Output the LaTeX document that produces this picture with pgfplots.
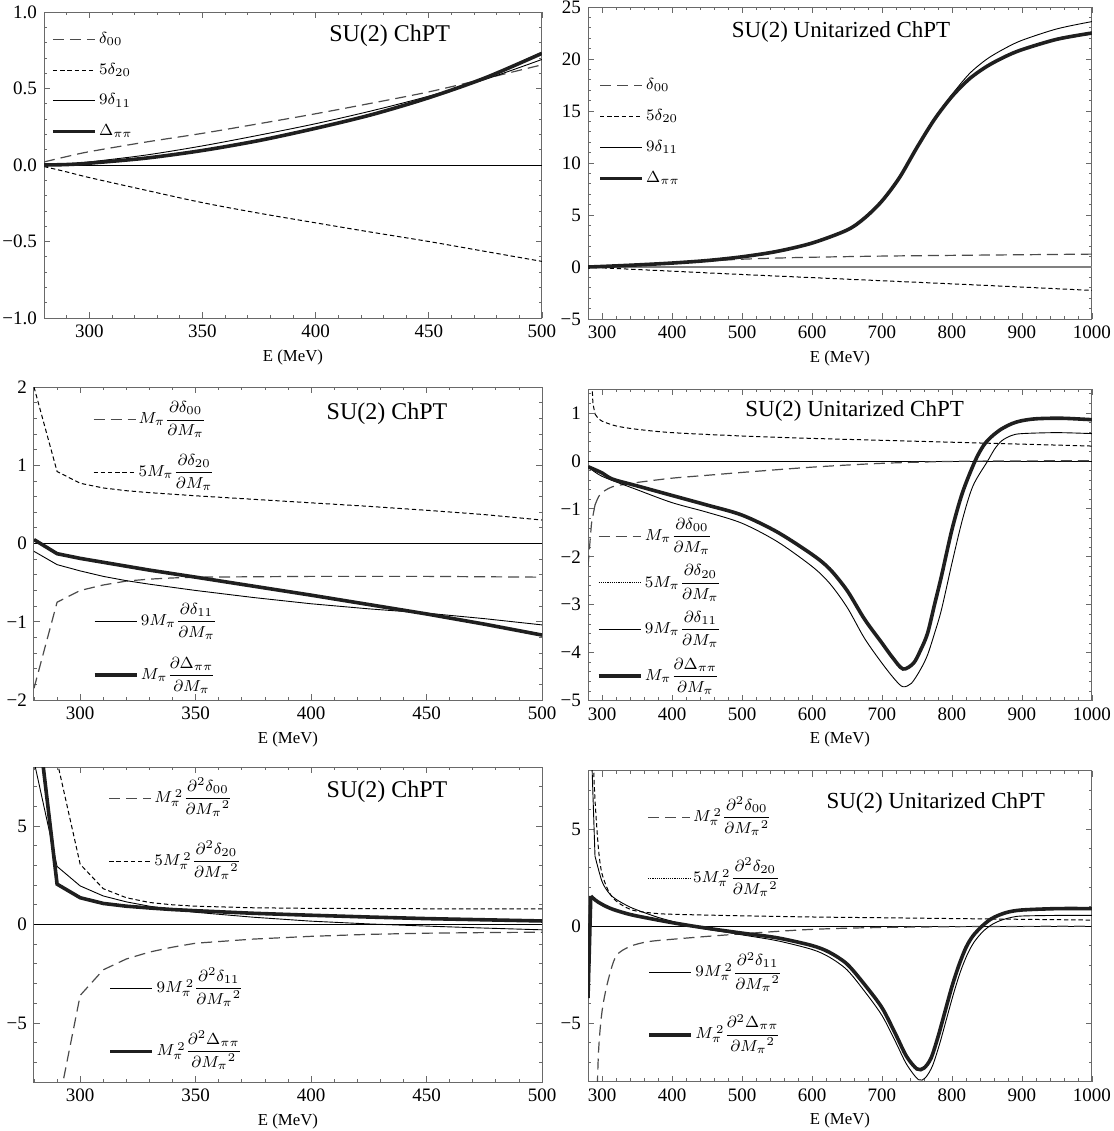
\documentclass[border=0pt]{standalone}
\usepackage{amsmath}
\usepackage{fontspec}
\setmainfont{Liberation Serif}
\usepackage{pgfplots}
\pgfplotsset{compat=1.18}
\definecolor{framec}{RGB}{105,105,105}
\definecolor{dashc}{RGB}{75,75,75}
\tikzset{
 sdoo/.style={dashc, line width=0.6pt, dash pattern=on 5.5pt off 3pt},
 sdtw/.style={black, line width=0.5pt, dash pattern=on 2.2pt off 1.4pt},
 sdtwleg/.style={black, line width=0.5pt, dash pattern=on 0.6pt off 0.5pt},
 sdel/.style={black, line width=0.45pt},
 sDel/.style={black!88, line width=1.8pt},
 zl/.style={black, line width=0.4pt},
 lg/.style={anchor=west, draw=none, fill=none, inner sep=0pt, outer sep=0pt, row sep=0pt,
   font=\fontsize{8.3}{10}\selectfont, nodes={inner xsep=1.2pt, inner ysep=0pt}},
}
\pgfplotsset{
 legend image code/.code={\draw[#1] (0pt,0pt) -- (21pt,0pt);},
 panel/.style={scale only axis, anchor=south west,
   axis line style={framec, line width=0.5pt},
   tick style={framec, line width=0.4pt},
   major tick length=3pt, minor tick length=1.6pt, tick align=inside,
   xtick pos=both, ytick pos=both,
   tick label style={font=\fontsize{9.5}{11}\selectfont, text=black},
   label style={font=\fontsize{8.4}{10}\selectfont},
   xlabel={E (MeV)}, xlabel style={yshift=1pt},
   /pgf/number format/assume math mode=true,
   /pgf/number format/1000 sep={},
   legend cell align=left},
 legax/.style={scale only axis, anchor=south west, hide axis, xmin=0, xmax=1, ymin=0, ymax=1, legend cell align=left},
 leftx/.style={xmin=280, xmax=500, xtick={300,350,...,500}, minor xtick={280,290,...,500}},
 rightx/.style={xmin=280, xmax=1000, xtick={300,400,...,1000}, minor xtick={280,300,...,1000}},
}
\begin{document}
\begin{tikzpicture}
\useasboundingbox (0,0) rectangle (557pt,-565.5pt);

% ---------------- Top left
\begin{axis}[panel, leftx, at={(22pt,-159pt)}, width=249pt, height=153pt,
  ymin=-1, ymax=1, ytick={-1,-0.5,0,0.5,1}, yticklabels={−1.0,−0.5,0.0,0.5,1.0},
  minor ytick={-0.9,-0.8,-0.7,-0.6,-0.4,-0.3,-0.2,-0.1,0.1,0.2,0.3,0.4,0.6,0.7,0.8,0.9},
  legend style={lg, at={(0.0144,0.76)}, nodes={text height=9.75pt, text depth=5.55pt}}]
\addplot[zl, forget plot] coordinates {(280,0) (500,0)};
\addplot[sdoo, smooth] coordinates {(280,0.02)(290,0.055)(300,0.087)(325,0.15)(350,0.207)(375,0.27)(400,0.335)(425,0.405)(450,0.478)(475,0.565)(500,0.655)};
\addlegendentry{$\delta_{00}$}
\addplot[sdtw, smooth] coordinates {(280,-0.01)(290,-0.045)(300,-0.082)(325,-0.165)(350,-0.246)(375,-0.315)(400,-0.378)(425,-0.44)(450,-0.5)(475,-0.565)(500,-0.63)};
\addlegendentry{$5\delta_{20}$}
\addplot[sdel, smooth] coordinates {(280,0)(290,0.006)(300,0.02)(325,0.065)(350,0.125)(375,0.195)(400,0.27)(425,0.355)(450,0.45)(475,0.56)(500,0.69)};
\addlegendentry{$9\delta_{11}$}
\addplot[sDel, smooth] coordinates {(280,0)(290,0.003)(300,0.012)(325,0.045)(350,0.095)(375,0.16)(400,0.24)(425,0.33)(450,0.44)(475,0.57)(500,0.73)};
\addlegendentry{$\Delta_{\pi\pi}$}
\node[font=\fontsize{12}{14}\selectfont, inner sep=0pt] at (rel axis cs:0.694,0.922) {SU(2) ChPT};
\end{axis}

% ---------------- Top right
\begin{axis}[panel, rightx, at={(294pt,-159.5pt)}, width=252pt, height=156pt,
  ymin=-5, ymax=25, ytick={-5,0,...,25}, yticklabels={−5,0,5,10,15,20,25},
  minor ytick={-5,-4,...,25},
  legend style={lg, at={(0.0203,0.60)}, nodes={text height=9.85pt, text depth=5.65pt}}]
\addplot[gray, line width=0.8pt, forget plot] coordinates {(280,0) (1000,0)};
\addplot[sdoo, smooth] coordinates {(280,0)(300,0.05)(350,0.2)(400,0.38)(450,0.58)(500,0.75)(550,0.86)(600,0.94)(700,1.05)(800,1.12)(900,1.18)(1000,1.24)};
\addlegendentry{$\delta_{00}$}
\addplot[sdtw, smooth] coordinates {(280,0)(300,-0.08)(400,-0.4)(500,-0.72)(600,-1.02)(700,-1.32)(800,-1.62)(900,-1.93)(1000,-2.25)};
\addlegendentry{$5\delta_{20}$}
\addplot[sdel, smooth, tension=0.5] coordinates {(280,0)(300,0.05)(350,0.2)(400,0.38)(450,0.62)(500,0.98)(550,1.5)(600,2.3)(650,3.55)(675,4.7)(700,6.35)(725,8.6)(750,11.5)(775,14.3)(790,15.7)(800,16.6)(825,18.6)(850,20.0)(875,21.0)(900,21.8)(950,22.9)(1000,23.6)};
\addlegendentry{$9\delta_{11}$}
\addplot[sDel, smooth, tension=0.5] coordinates {(280,0)(300,0.05)(350,0.2)(400,0.38)(450,0.62)(500,0.98)(550,1.5)(600,2.3)(650,3.55)(675,4.7)(700,6.35)(725,8.6)(750,11.5)(775,14.2)(800,16.4)(825,18.1)(850,19.3)(875,20.2)(900,20.9)(950,21.9)(1000,22.5)};
\addlegendentry{$\Delta_{\pi\pi}$}
\node[font=\fontsize{11.5}{14}\selectfont, inner sep=0pt] at (rel axis cs:0.502,0.92) {SU(2) Unitarized ChPT};
\end{axis}

% ---------------- Middle left
\begin{axis}[panel, leftx, at={(17pt,-350pt)}, width=254pt, height=156.5pt,
  ymin=-2, ymax=2, ytick={-2,-1,0,1,2}, yticklabels={−2,−1,0,1,2},
  minor ytick={-2,-1.8,...,2},
  legend style={lg, at={(0.116,0.812)}, nodes={text height=15.2pt, text depth=11pt}}]
\addplot[zl, forget plot] coordinates {(280,0) (500,0)};
\addplot[sdoo] coordinates {(280,-1.85)(290,-0.75)(300,-0.6)(310,-0.53)(320,-0.48)(330,-0.455)(340,-0.44)(350,-0.43)(400,-0.42)(450,-0.42)(500,-0.43)};
\addlegendentry{$M_\pi\dfrac{\partial\delta_{00}}{\partial M_\pi}$}
\addplot[sdtw] coordinates {(280,2.0)(290,0.92)(300,0.77)(310,0.71)(320,0.675)(330,0.65)(340,0.63)(350,0.61)(375,0.565)(400,0.52)(425,0.475)(450,0.425)(475,0.37)(500,0.3)};
\addlegendentry{$5M_\pi\dfrac{\partial\delta_{20}}{\partial M_\pi}$}
\addplot[sdel, forget plot] coordinates {(280,-0.1)(290,-0.27)(300,-0.35)(310,-0.42)(320,-0.475)(330,-0.52)(340,-0.56)(350,-0.6)(375,-0.69)(400,-0.77)(425,-0.835)(450,-0.89)(475,-0.96)(500,-1.04)};
\addplot[sDel, forget plot] coordinates {(280,0.05)(290,-0.13)(300,-0.19)(310,-0.24)(320,-0.29)(330,-0.34)(340,-0.385)(350,-0.43)(375,-0.545)(400,-0.66)(425,-0.78)(450,-0.9)(475,-1.03)(500,-1.17)};
\node[font=\fontsize{12}{14}\selectfont, inner sep=0pt] at (rel axis cs:0.695,0.915) {SU(2) ChPT};
\end{axis}
\begin{axis}[legax, at={(17pt,-350pt)}, width=254pt, height=156.5pt,
  legend style={lg, at={(0.116,0.166)}, nodes={text height=15.6pt, text depth=11.4pt}}]
\addlegendimage{sdel}
\addlegendentry{$9M_\pi\dfrac{\partial\delta_{11}}{\partial M_\pi}$}
\addlegendimage{sDel}
\addlegendentry{$M_\pi\dfrac{\partial\Delta_{\pi\pi}}{\partial M_\pi}$}
\end{axis}

% ---------------- Middle right
\begin{axis}[panel, rightx, at={(294pt,-350.3pt)}, width=252pt, height=155.8pt,
  ymin=-5, ymax=1.5, ytick={-5,...,1}, yticklabels={−5,−4,−3,−2,−1,0,1},
  minor ytick={-5,-4.8,...,1.4},
  legend style={lg, at={(0.0175,0.303)}, nodes={text height=13.75pt, text depth=9.55pt}}]
\addplot[zl, forget plot] coordinates {(280,0) (1000,0)};
\addplot[sdoo, forget plot] coordinates {(280,-2.2)(285,-1.3)(290,-0.92)};
\addplot[sdoo, smooth, tension=0.5, forget plot] coordinates {(290,-0.92)(295,-0.75)(300,-0.66)(310,-0.57)(320,-0.52)(350,-0.45)(400,-0.36)(450,-0.3)(500,-0.24)(600,-0.13)(700,-0.05)(800,-0.01)(900,0.0)(1000,0.005)};
\addlegendimage{sdoo}
\addlegendentry{$M_\pi\dfrac{\partial\delta_{00}}{\partial M_\pi}$}
\addplot[sdtw, forget plot] coordinates {(283,2.5)(287,1.2)(290,0.98)};
\addplot[sdtw, smooth, tension=0.5, forget plot] coordinates {(290,0.98)(295,0.88)(300,0.83)(320,0.73)(350,0.66)(400,0.59)(500,0.52)(600,0.47)(700,0.43)(800,0.39)(900,0.35)(1000,0.31)};
\addlegendimage{sdtwleg}
\addlegendentry{$5M_\pi\dfrac{\partial\delta_{20}}{\partial M_\pi}$}
\addplot[sdel, smooth, tension=0.5, forget plot] coordinates {(280,-0.12)(300,-0.32)(350,-0.6)(400,-0.87)(450,-1.07)(500,-1.3)(550,-1.68)(600,-2.2)(625,-2.55)(650,-3.05)(675,-3.7)(700,-4.22)(719,-4.57)(730,-4.71)(742,-4.64)(755,-4.35)(765,-4.05)(775,-3.6)(785,-3.1)(800,-2.13)(815,-1.22)(830,-0.52)(851,0.0)(861,0.25)(871,0.42)(885,0.53)(900,0.57)(950,0.59)(1000,0.57)};
\addlegendimage{sdel}
\addlegendentry{$9M_\pi\dfrac{\partial\delta_{11}}{\partial M_\pi}$}
\addplot[sDel, smooth, tension=0.5, forget plot] coordinates {(280,-0.12)(300,-0.25)(315,-0.38)(350,-0.52)(400,-0.72)(450,-0.92)(500,-1.13)(550,-1.48)(600,-1.95)(625,-2.25)(650,-2.7)(675,-3.3)(700,-3.8)(715,-4.1)(730,-4.34)(745,-4.22)(755,-3.95)(765,-3.6)(775,-3.0)(785,-2.4)(800,-1.43)(815,-0.66)(833,0.0)(845,0.32)(856,0.5)(870,0.66)(886,0.78)(900,0.84)(921,0.88)(957,0.89)(1000,0.86)};
\addlegendimage{sDel}
\addlegendentry{$M_\pi\dfrac{\partial\Delta_{\pi\pi}}{\partial M_\pi}$}
\node[font=\fontsize{11.5}{14}\selectfont, inner sep=0pt] at (rel axis cs:0.529,0.93) {SU(2) Unitarized ChPT};
\end{axis}

% ---------------- Bottom left
\begin{axis}[panel, leftx, at={(17pt,-541pt)}, width=254pt, height=157.5pt,
  ymin=-8, ymax=8, ytick={-5,0,5}, yticklabels={−5,0,5},
  minor ytick={-8,-7,...,8},
  legend style={lg, at={(0.147,0.8)}, nodes={text height=17.85pt, text depth=13.65pt}}]
\addplot[zl, forget plot] coordinates {(280,0) (500,0)};
\addplot[sdoo] coordinates {(290,-9.5)(300,-3.6)(310,-2.3)(320,-1.75)(330,-1.4)(340,-1.15)(350,-0.95)(375,-0.74)(400,-0.6)(425,-0.5)(450,-0.44)(475,-0.41)(500,-0.39)};
\addlegendentry{$M_\pi^{\,2}\dfrac{\partial^2\delta_{00}}{\partial {M_\pi}^{2}}$}
\addplot[sdtw] coordinates {(289.8,9)(290,8.3)(300,3.06)(310,1.82)(320,1.36)(330,1.12)(340,1.0)(350,0.93)(375,0.85)(400,0.82)(450,0.8)(500,0.8)};
\addlegendentry{$5M_\pi^{\,2}\dfrac{\partial^2\delta_{20}}{\partial {M_\pi}^{2}}$}
\addplot[sdel, forget plot] coordinates {(280,8.3)(290,2.95)(300,1.96)(310,1.45)(320,1.15)(330,0.93)(340,0.76)(350,0.62)(375,0.37)(400,0.17)(425,0.03)(450,-0.08)(475,-0.18)(500,-0.27)};
\addplot[sDel, forget plot] coordinates {(280,12)(290,2.05)(300,1.36)(310,1.07)(320,0.93)(330,0.84)(340,0.76)(350,0.7)(375,0.57)(400,0.47)(425,0.38)(450,0.3)(475,0.24)(500,0.18)};
\node[font=\fontsize{12}{14}\selectfont, inner sep=0pt] at (rel axis cs:0.695,0.92) {SU(2) ChPT};
\end{axis}
\begin{axis}[legax, at={(17pt,-541pt)}, width=254pt, height=157.5pt,
  legend style={lg, at={(0.147,0.197)}, nodes={text height=17.85pt, text depth=13.65pt}}]
\addlegendimage{sdel}
\addlegendentry{$9M_\pi^{\,2}\dfrac{\partial^2\delta_{11}}{\partial {M_\pi}^{2}}$}
\addlegendimage{sDel}
\addlegendentry{$M_\pi^{\,2}\dfrac{\partial^2\Delta_{\pi\pi}}{\partial {M_\pi}^{2}}$}
\end{axis}

% ---------------- Bottom right
\begin{axis}[panel, rightx, at={(294pt,-540.8pt)}, width=252pt, height=155.5pt,
  ymin=-8, ymax=8, ytick={-5,0,5}, yticklabels={−5,0,5},
  minor ytick={-8,-7,...,8},
  legend style={lg, at={(0.118,0.751)}, nodes={text height=17.35pt, text depth=13.15pt}}]
\addplot[zl, forget plot] coordinates {(280,0) (1000,0)};
\addplot[sdoo, smooth, tension=0.5, forget plot] coordinates {(292,-10)(295,-6.5)(300,-4.4)(308,-2.9)(320,-1.55)(340,-1.05)(366,-0.8)(406,-0.66)(457,-0.51)(522,-0.34)(593,-0.18)(669,-0.09)(800,-0.03)(1000,-0.005)};
\addlegendimage{sdoo}
\addlegendentry{$M_\pi^{\,2}\dfrac{\partial^2\delta_{00}}{\partial {M_\pi}^{2}}$}
\addplot[sdtw, smooth, tension=0.5, forget plot] coordinates {(287,9)(290,6.5)(295,3.95)(300,2.7)(310,1.75)(320,1.3)(330,1.05)(340,0.87)(350,0.77)(375,0.66)(400,0.61)(500,0.53)(600,0.47)(700,0.43)(800,0.39)(900,0.35)(1000,0.31)};
\addlegendimage{sdtwleg}
\addlegendentry{$5M_\pi^{\,2}\dfrac{\partial^2\delta_{20}}{\partial {M_\pi}^{2}}$}
\addplot[sdel, forget plot] coordinates {(285,9.0)(290,3.6)};
\addplot[sdel, smooth, tension=0.5, forget plot] coordinates {(290,3.6)(300,2.3)(310,1.7)(320,1.38)(340,0.98)(360,0.7)(380,0.45)(400,0.25)(420,0.05)(440,-0.1)(460,-0.22)(480,-0.33)(500,-0.45)(550,-0.75)(600,-1.2)(625,-1.6)(650,-2.25)(675,-3.35)(700,-4.6)(720,-6.0)(735,-7.1)(752,-7.9)(762,-7.8)(772,-7.2)(782,-6.1)(792,-4.8)(802,-3.5)(812,-2.35)(822,-1.45)(832,-0.8)(845,-0.25)(858,0.1)(870,0.3)(885,0.45)(900,0.52)(950,0.55)(1000,0.55)};
\addplot[sDel, forget plot] coordinates {(280,-3.7)(284,1.55)};
\addplot[sDel, smooth, tension=0.5, forget plot] coordinates {(284,1.55)(290,1.35)(300,1.12)(315,0.87)(340,0.6)(370,0.38)(400,0.18)(430,0.0)(460,-0.16)(500,-0.36)(550,-0.6)(600,-1.0)(625,-1.35)(650,-1.95)(675,-3.0)(700,-4.2)(720,-5.6)(735,-6.7)(750,-7.35)(760,-7.3)(770,-6.8)(780,-5.7)(790,-4.4)(800,-3.1)(810,-2.0)(820,-1.1)(830,-0.5)(843,0.0)(855,0.35)(866,0.55)(880,0.72)(900,0.83)(950,0.9)(1000,0.9)};
\node[font=\fontsize{11.5}{14}\selectfont, inner sep=0pt] at (rel axis cs:0.69,0.897) {SU(2) Unitarized ChPT};
\end{axis}
\begin{axis}[legax, at={(294pt,-540.8pt)}, width=252pt, height=155.5pt,
  legend style={lg, at={(0.118,0.2505)}, nodes={text height=17.6pt, text depth=13.4pt}}]
\addlegendimage{sdel}
\addlegendentry{$9M_\pi^{\,2}\dfrac{\partial^2\delta_{11}}{\partial {M_\pi}^{2}}$}
\addlegendimage{sDel}
\addlegendentry{$M_\pi^{\,2}\dfrac{\partial^2\Delta_{\pi\pi}}{\partial {M_\pi}^{2}}$}
\end{axis}
\end{tikzpicture}
\end{document}
